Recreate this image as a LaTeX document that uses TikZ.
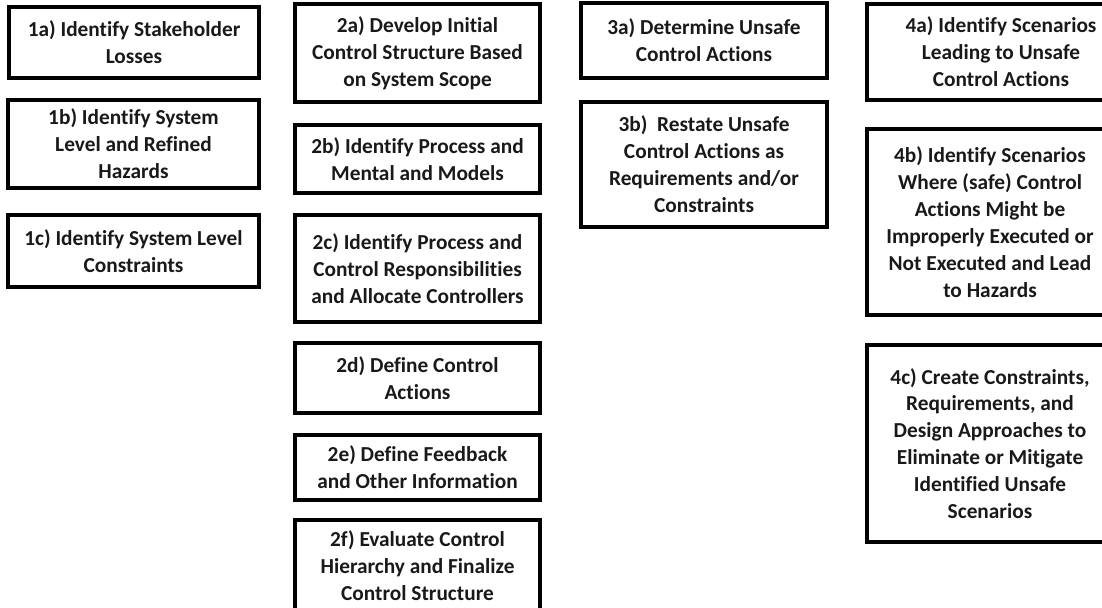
\documentclass[tikz,border=0pt]{standalone}
\usepackage{fontspec}
\setmainfont{Carlito}[Ligatures=NoCommon]
\begin{document}
\begin{tikzpicture}[x=0.75pt,y=-0.75pt,
  stepbox/.style={draw=black, line width=2.6pt, rectangle, align=center, inner sep=0pt,
    font=\bfseries\fontsize{16pt}{20.2pt}\selectfont, text=black!90}]
\useasboundingbox (0,0) rectangle (1102,607);
\clip (0,0) rectangle (1102,607);
% column 1
\node[stepbox, minimum width=250*0.75pt, minimum height=71*0.75pt] (n1a) at (134,42.5) {1a) Identify Stakeholder\\Losses};
\node[stepbox, minimum width=251*0.75pt, minimum height=88*0.75pt] (n1b) at (133.5,144) {1b) Identify System\\Level and Refined\\Hazards};
\node[stepbox, minimum width=251*0.75pt, minimum height=72*0.75pt] (n1c) at (133.5,251) {1c) Identify System Level\\Constraints};
% column 2
\node[stepbox, minimum width=245*0.75pt, minimum height=98*0.75pt] (n2a) at (417.5,53) {2a) Develop Initial\\Control Structure Based\\on System Scope};
\node[stepbox, minimum width=245*0.75pt, minimum height=68*0.75pt] (n2b) at (417.5,159) {2b) Identify Process and\\Mental and Models};
\node[stepbox, minimum width=245*0.75pt, minimum height=107*0.75pt] (n2c) at (417.5,268.5) {2c) Identify Process and\\Control Responsibilities\\and Allocate Controllers};
\node[stepbox, minimum width=245*0.75pt, minimum height=70*0.75pt] (n2d) at (417.5,378) {2d) Define Control\\Actions};
\node[stepbox, minimum width=245*0.75pt, minimum height=65*0.75pt] (n2e) at (417.5,467.5) {2e) Define Feedback\\and Other Information};
\node[stepbox, minimum width=245*0.75pt, minimum height=92*0.75pt] (n2f) at (417.5,566) {2f) Evaluate Control\\Hierarchy and Finalize\\Control Structure};
% column 3
\node[stepbox, minimum width=246*0.75pt, minimum height=75*0.75pt] (n3a) at (704,40.5) {3a) Determine Unsafe\\Control Actions};
\node[stepbox, minimum width=246*0.75pt, minimum height=125*0.75pt] (n3b) at (704,164.5) {3b)\ \ Restate Unsafe\\Control Actions as\\Requirements and/or\\Constraints};
% column 4
\node[stepbox, minimum width=268*0.75pt, minimum height=96*0.75pt] (n4a) at (1001,52) {4a) Identify Scenarios\\Leading to Unsafe\\Control Actions};
\node[stepbox, minimum width=246*0.75pt, minimum height=186*0.75pt] (n4b) at (990,222) {4b) Identify Scenarios\\Where (safe) Control\\Actions Might be\\Improperly Executed or\\Not Executed and Lead\\to Hazards};
\node[stepbox, minimum width=246*0.75pt, minimum height=197*0.75pt] (n4c) at (990,443.5) {4c) Create Constraints,\\Requirements, and\\Design Approaches to\\Eliminate or Mitigate\\Identified Unsafe\\Scenarios};
\end{tikzpicture}
\end{document}
